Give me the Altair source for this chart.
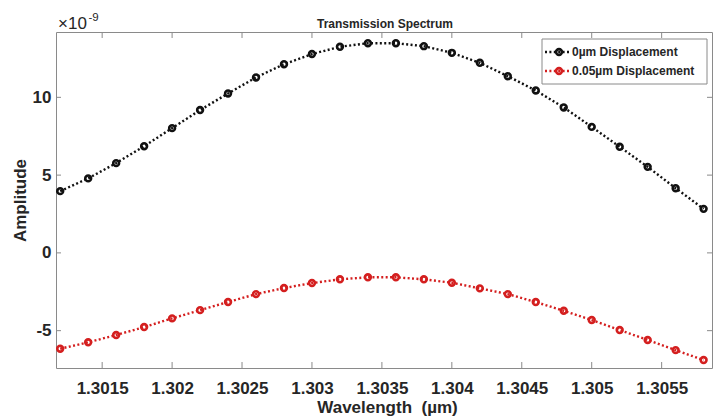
import altair as alt
import pandas as pd

# Wavelength samples (µm)
wavelength = [1.3012, 1.3014, 1.3016, 1.3018, 1.3020, 1.3022, 1.3024, 1.3026,
              1.3028, 1.3030, 1.3032, 1.3034, 1.3036, 1.3038, 1.3040, 1.3042,
              1.3044, 1.3046, 1.3048, 1.3050, 1.3052, 1.3054, 1.3056, 1.3058]

# Amplitude in units of 1e-9
amp_0um = [3.97, 4.79, 5.77, 6.86, 8.02, 9.18, 10.25, 11.28,
           12.13, 12.78, 13.25, 13.48, 13.48, 13.29, 12.86, 12.22,
           11.36, 10.44, 9.35, 8.10, 6.82, 5.53, 4.16, 2.83]
amp_005um = [-6.16, -5.75, -5.28, -4.77, -4.21, -3.68, -3.16, -2.65,
             -2.26, -1.94, -1.70, -1.57, -1.57, -1.70, -1.92, -2.28,
             -2.65, -3.16, -3.72, -4.32, -4.96, -5.60, -6.25, -6.89]

series_names = ["0µm Displacement", "0.05µm Displacement"]
series_colors = ["#111111", "#d41f1f"]

x_ticks = [1.3015, 1.3020, 1.3025, 1.3030, 1.3035, 1.3040, 1.3045, 1.3050, 1.3055]
y_ticks = [-5, 0, 5, 10]
x_domain = [1.30117, 1.30586]
y_domain = [-7.4, 14.2]

W, H = 656, 336
FONT = "Liberation Sans"
TXT = "#262626"
FRAME = "#8a8a8a"

df = pd.concat([
    pd.DataFrame({"wavelength": wavelength, "amplitude": amp_0um, "series": series_names[0]}),
    pd.DataFrame({"wavelength": wavelength, "amplitude": amp_005um, "series": series_names[1]}),
])

xs = alt.Scale(domain=x_domain, nice=False, zero=False)
ys = alt.Scale(domain=y_domain, nice=False, zero=False)
cs = alt.Scale(domain=series_names, range=series_colors)

x_axis = alt.Axis(
    values=x_ticks, labelExpr="format(datum.value, '.5~f')",
    title="Wavelength \u00a0(µm)", ticks=False, tickSize=0, domain=False, grid=False,
    labelFont=FONT, labelFontSize=17, labelFontWeight="bold", labelColor=TXT,
    labelPadding=12, labelFlush=False,
    titleFont=FONT, titleFontSize=17, titleFontWeight="bold", titleColor=TXT,
    titleX=331, titleY=44, titleBaseline="alphabetic", titleAnchor="middle")
y_axis = alt.Axis(
    values=y_ticks, title="Amplitude",
    labelExpr="datum.value < 0 ? '-' + abs(datum.value) : '' + datum.value",
    ticks=False, tickSize=0, domain=False, grid=False,
    labelFont=FONT, labelFontSize=17, labelFontWeight="bold", labelColor=TXT,
    labelPadding=5,
    titleFont=FONT, titleFontSize=17, titleFontWeight="bold", titleColor=TXT,
    titleAngle=-90, titleX=-31, titleY=H / 2, titleBaseline="alphabetic",
    titleAlign="center")

x_enc = alt.X("wavelength:Q", scale=xs, axis=x_axis)
y_enc = alt.Y("amplitude:Q", scale=ys, axis=y_axis)
color_enc = alt.Color("series:N", scale=cs, legend=None)

base = alt.Chart(df)
lines = base.mark_line(strokeDash=[2, 2.4], strokeWidth=2.4).encode(
    x=x_enc, y=y_enc, color=color_enc, detail="series:N")
points = base.mark_point(shape="circle", filled=False, size=34, strokeWidth=2.6,
                         opacity=1).encode(x=x_enc, y=y_enc, color=color_enc)

# inward ticks on all four sides of the box
xt = pd.DataFrame({"wavelength": x_ticks})
yt = pd.DataFrame({"amplitude": y_ticks})
ticks_bottom = alt.Chart(xt).mark_rule(color=FRAME, strokeWidth=1).encode(
    x=x_enc, y=alt.value(H - 6), y2=alt.value(H))
ticks_top = alt.Chart(xt).mark_rule(color=FRAME, strokeWidth=1).encode(
    x=x_enc, y=alt.value(0), y2=alt.value(6))
ticks_left = alt.Chart(yt).mark_rule(color=FRAME, strokeWidth=1).encode(
    y=y_enc, x=alt.value(0), x2=alt.value(5))
ticks_right = alt.Chart(yt).mark_rule(color=FRAME, strokeWidth=1).encode(
    y=y_enc, x=alt.value(W - 5), x2=alt.value(W))

# title and exponent label above the box
title = alt.Chart(pd.DataFrame({"t": ["Transmission Spectrum"]})).mark_text(
    font=FONT, fontSize=12, fontWeight="bold", color=TXT,
    align="center", baseline="alphabetic").encode(
    text="t:N", x=alt.value(329), y=alt.value(-4.5))
exp_base = alt.Chart(pd.DataFrame({"t": ["×10"]})).mark_text(
    font=FONT, fontSize=17, color=TXT, align="left", baseline="alphabetic").encode(
    text="t:N", x=alt.value(2), y=alt.value(-3.5))
exp_pow = alt.Chart(pd.DataFrame({"t": ["-9"]})).mark_text(
    font=FONT, fontSize=11.5, color=TXT, align="left", baseline="alphabetic").encode(
    text="t:N", x=alt.value(32.5), y=alt.value(-11))

# legend box
leg_box = alt.Chart(pd.DataFrame({"t": [0]})).mark_rect(
    fill="white", stroke=FRAME, strokeWidth=1).encode(
    x=alt.value(486), x2=alt.value(651), y=alt.value(7), y2=alt.value(52))
leg_layers = [leg_box]
for i, (name, col) in enumerate(zip(series_names, series_colors)):
    ry = 20 + i * 19
    d = pd.DataFrame({"t": [name]})
    leg_layers.append(alt.Chart(d).mark_rule(color=col, strokeDash=[2, 2.4], strokeWidth=2.4).encode(
        x=alt.value(489), x2=alt.value(514), y=alt.value(ry)))
    leg_layers.append(alt.Chart(d).mark_point(shape="circle", filled=False, size=34,
                                              strokeWidth=2.6, color=col, opacity=1).encode(
        x=alt.value(503), y=alt.value(ry)))
    leg_layers.append(alt.Chart(d).mark_text(font=FONT, fontSize=12, fontWeight="bold",
                                             color=TXT, align="left", baseline="middle").encode(
        text="t:N", x=alt.value(516), y=alt.value(ry)))

chart = alt.layer(
    lines, points, ticks_bottom, ticks_top, ticks_left, ticks_right,
    title, exp_base, exp_pow, *leg_layers
).properties(
    width=W, height=H,
    autosize=alt.AutoSizeParams(type="none"),
    padding={"left": 56, "top": 32, "right": 1, "bottom": 51},
    background="white",
).configure_view(stroke=FRAME, strokeWidth=1)

chart.save("out.html", embed_options={"renderer": "svg", "actions": False})
